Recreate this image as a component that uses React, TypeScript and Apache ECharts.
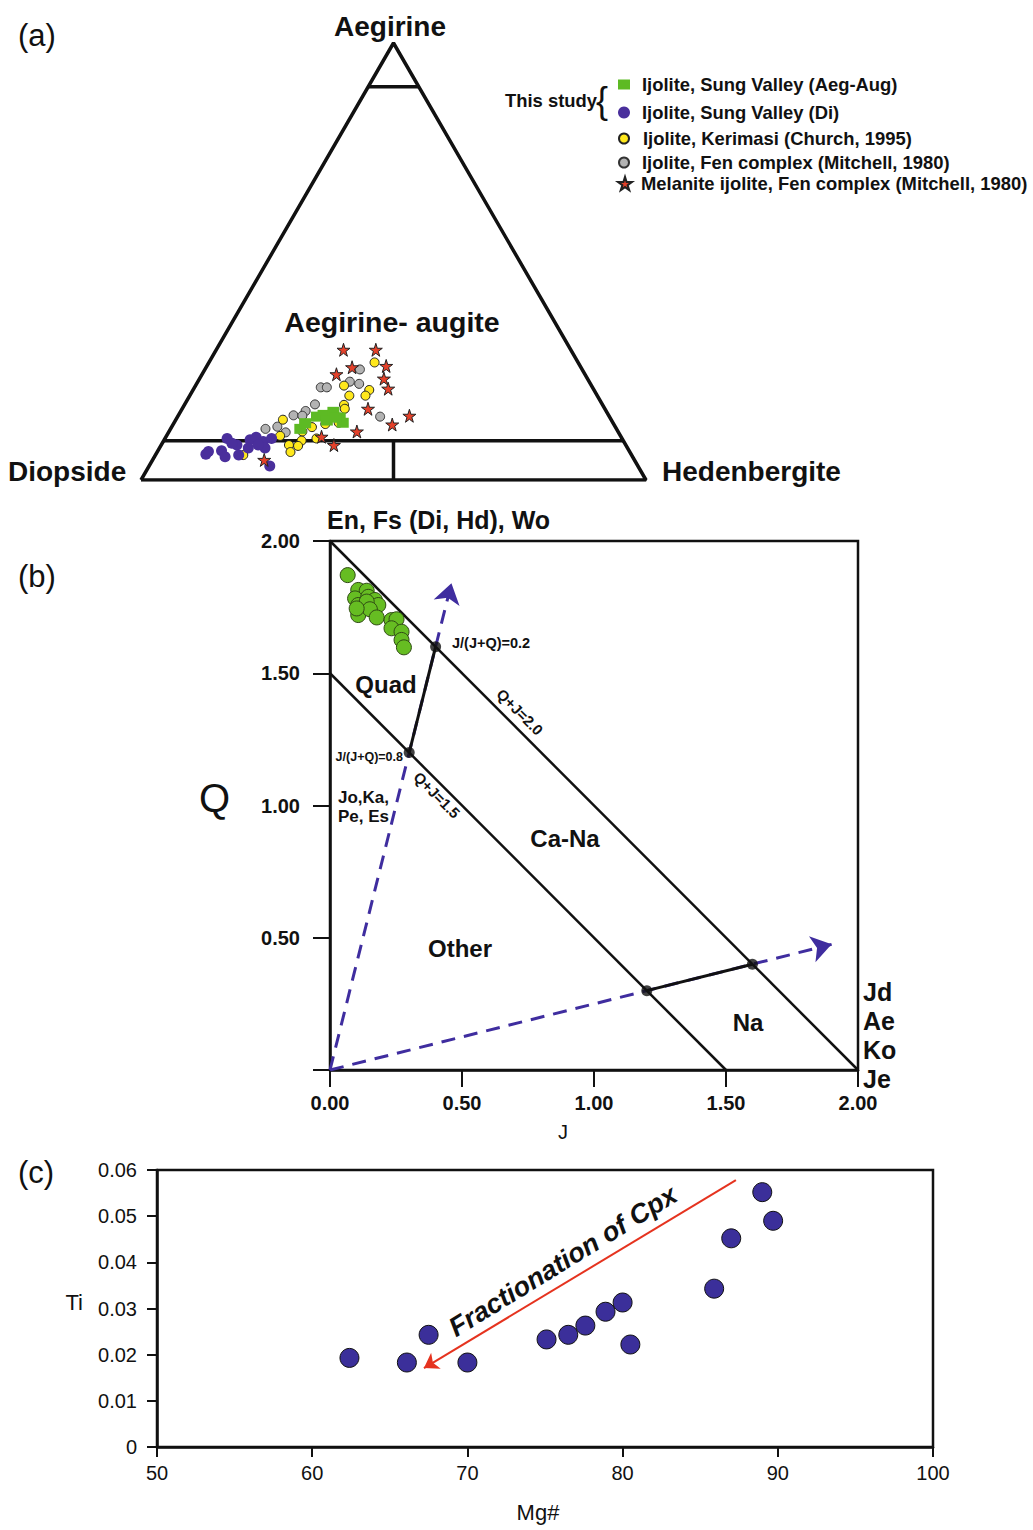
import React, { useEffect, useRef } from "react";
import * as echarts from "echarts";

const FONT = "'Liberation Sans', Arial, Helvetica, sans-serif";
const INK = "#111111";
const SQ = Math.sqrt(3) / 2;

// ---------- Panel (a): ternary Ae–Di–Hd, points as [Aegirine %, Hedenbergite %] (Di = rest) ----------
const aegAugSungValley = [
  [11.7, 25.7], [13.0, 26.0], [14.5, 27.6], [14.9, 28.7], [15.6, 30.3],
  [14.3, 32.2], [13.1, 33.4], [13.6, 30.0], [14.3, 31.3],
];
const diSungValley = [
  [5.9, 9.9], [6.5, 10.1], [6.7, 12.6], [5.3, 14.0], [9.5, 12.3], [8.0, 15.0],
  [5.7, 16.5], [9.2, 17.0], [9.8, 17.9], [7.3, 17.6], [8.8, 19.8], [9.5, 21.1],
  [7.3, 20.9], [3.2, 23.9], [8.4, 13.8], [8.0, 19.2],
];
const kerimasi = [
  [26.9, 32.8], [21.6, 29.4], [20.6, 34.9], [19.3, 31.6], [19.3, 34.8], [17.2, 31.6],
  [16.3, 32.2], [13.8, 21.2], [12.1, 27.8], [11.1, 26.4], [10.1, 22.5], [12.8, 30.1],
  [9.0, 27.3], [9.5, 30.0], [8.0, 25.3], [7.8, 27.2], [6.4, 26.4], [5.7, 17.4], [13.1, 32.6],
];
const fenIjolite = [
  [25.3, 30.7], [22.5, 30.1], [22.0, 32.2], [21.2, 25.0], [21.2, 26.2], [17.3, 25.8],
  [15.8, 24.7], [14.8, 22.8], [14.7, 24.6], [14.5, 40.1], [12.2, 20.9], [11.7, 18.8], [10.9, 23.2],
];
const fenMelanite = [
  [29.8, 25.2], [29.8, 31.6], [25.8, 28.9], [24.2, 26.6], [26.1, 35.5], [23.2, 36.5],
  [20.9, 38.5], [16.3, 36.8], [14.7, 45.8], [12.7, 43.4], [11.1, 37.2], [9.9, 30.8],
  [8.0, 34.2], [4.6, 22.1],
];
const ternaryOutline = [[0, 0], [0, 100], [100, 0], [0, 0]];
const aegirineLimit = [[90, 0], [90, 10]];
const augiteLimit = [[9, 0], [9, 91]];
const diHdDivide = [[9, 45.5], [0, 50]];

// ---------- Panel (b): Q–J diagram ----------
const quadPoints = [
  [0.067, 1.871], [0.107, 1.815], [0.139, 1.812], [0.095, 1.783], [0.145, 1.789],
  [0.170, 1.777], [0.183, 1.758], [0.107, 1.758], [0.139, 1.771], [0.107, 1.720],
  [0.151, 1.742], [0.177, 1.711], [0.233, 1.701], [0.252, 1.704], [0.233, 1.670],
  [0.271, 1.657], [0.271, 1.626], [0.280, 1.598], [0.101, 1.745],
];
const lineQJ20 = [[0, 2], [2, 0]];
const lineQJ15 = [[0, 1.5], [1.5, 0]];
const tieQuad = [[0.3, 1.2], [0.4, 1.6]];
const tieNa = [[1.2, 0.3], [1.6, 0.4]];
const nodes = [[0.4, 1.6], [0.3, 1.2], [1.2, 0.3], [1.6, 0.4]];
const ratioArrows = [
  [[0, 0], [0.46, 1.84]],
  [[0, 0], [1.9, 0.475]],
];
const qTicks = [0, 0.5, 1, 1.5, 2];

// ---------- Panel (c): Ti vs Mg# ----------
const mgNumber = [62.4, 66.1, 67.5, 70.0, 75.1, 76.5, 77.6, 78.9, 80.0, 80.5, 85.9, 87.0, 89.0, 89.7];
const tiValues = [0.0193, 0.0183, 0.0243, 0.0183, 0.0233, 0.0243, 0.0263, 0.0293, 0.0313, 0.0222, 0.0343, 0.0452, 0.0552, 0.049];
const fractionationArrow = [[87.3, 0.0578], [67.2, 0.0171]];

const STAR = "path://M50,0 L61,35 L98,35 L68,57 L79,91 L50,70 L21,91 L32,57 L2,35 L39,35 Z";

const tern = (p: number[]) => [(p[1] + p[0] / 2) / 100, (p[0] / 100) * SQ];

function txt(
  text: string,
  x: number,
  y: number,
  size: number,
  opts: { weight?: string; align?: string; rot?: number; italic?: boolean; color?: string } = {}
) {
  const align = opts.align || "left";
  return {
    type: "text",
    x,
    y,
    rotation: opts.rot || 0,
    z: 100,
    style: {
      text,
      fontSize: size,
      fontWeight: opts.weight || "normal",
      fontStyle: opts.italic ? "italic" : "normal",
      fontFamily: FONT,
      fill: opts.color || INK,
      align,
      textAlign: align,
      verticalAlign: "middle",
      textVerticalAlign: "middle",
    },
  };
}

function legendFor(name: string, left: number, centerY: number, size: number, h: number, textStart: number) {
  return {
    data: [name],
    left,
    top: centerY - 8.5,
    itemWidth: size,
    itemHeight: h,
    padding: 0,
    selectedMode: false,
    textStyle: {
      fontSize: 18.4,
      fontWeight: "bold",
      fontFamily: FONT,
      color: INK,
      padding: [0, 0, 0, textStart - (left + size + 5)],
    },
  };
}

export default function App() {
  const ref = useRef<HTMLDivElement>(null);

  useEffect(() => {
    if (!ref.current) return;
    const chart = echarts.init(ref.current, undefined, { renderer: "svg" });

    const lineSeries = (data: number[][], gi: number, width: number, conv = false) => ({
      type: "line",
      xAxisIndex: gi,
      yAxisIndex: gi,
      data: conv ? data.map(tern) : data,
      symbol: "none",
      silent: true,
      lineStyle: { color: INK, width },
      z: 3,
    });

    const ternScatter = (name: string, data: number[][], symbol: string, size: number | number[], color: string, border: string, bw: number, z: number) => ({
      type: "scatter",
      name,
      xAxisIndex: 0,
      yAxisIndex: 0,
      data: data.map(tern),
      symbol,
      symbolSize: size,
      itemStyle: { color, borderColor: border, borderWidth: bw, opacity: 1 },
      z,
    });

    const option: any = {
      animation: false,
      backgroundColor: "#ffffff",
      textStyle: { fontFamily: FONT },
      grid: [
        { left: 141, top: 43, width: 505, height: 437 },
        { left: 330, top: 541, width: 528, height: 529, show: true, borderColor: INK, borderWidth: 2.5, backgroundColor: "transparent" },
        { left: 157, top: 1170, width: 776, height: 277, show: true, borderColor: INK, borderWidth: 2.5, backgroundColor: "transparent" },
      ],
      xAxis: [
        { gridIndex: 0, type: "value", min: 0, max: 1, show: false },
        {
          gridIndex: 1, type: "value", min: 0, max: 2, interval: 0.5,
          name: "J", nameLocation: "middle", nameGap: 52,
          nameTextStyle: { fontSize: 20, fontFamily: FONT, color: INK, padding: [0, 62, 0, 0] },
          axisLine: { show: true, onZero: false, lineStyle: { color: INK, width: 2.5 } },
          axisTick: { show: true, length: 17, lineStyle: { color: INK, width: 2 } },
          axisLabel: { formatter: (v: number) => v.toFixed(2), fontSize: 20, fontWeight: "bold", fontFamily: FONT, color: INK, margin: 23 },
          splitLine: { show: false },
        },
        {
          gridIndex: 2, type: "value", min: 50, max: 100, interval: 10,
          name: "Mg#", nameLocation: "middle", nameGap: 54,
          nameTextStyle: { fontSize: 22, fontFamily: FONT, color: INK, padding: [0, 14, 0, 0] },
          axisLine: { show: true, onZero: false, lineStyle: { color: INK, width: 2.5 } },
          axisTick: { show: true, length: 10, lineStyle: { color: INK, width: 2 } },
          axisLabel: { fontSize: 20, fontFamily: FONT, color: INK, margin: 16 },
          splitLine: { show: false },
        },
      ],
      yAxis: [
        { gridIndex: 0, type: "value", min: 0, max: SQ, show: false },
        {
          gridIndex: 1, type: "value", min: 0, max: 2, interval: 0.5,
          name: "Q", nameLocation: "middle", nameGap: 100, nameRotate: 0,
          nameTextStyle: { fontSize: 40, fontFamily: FONT, color: INK, verticalAlign: "bottom", lineHeight: 15 },
          axisLine: { show: true, onZero: false, lineStyle: { color: INK, width: 2.5 } },
          axisTick: { show: true, length: 17, lineStyle: { color: INK, width: 2 } },
          axisLabel: {
            formatter: (v: number) => (v === qTicks[0] ? "" : v.toFixed(2)),
            fontSize: 20, fontWeight: "bold", fontFamily: FONT, color: INK, margin: 30,
          },
          splitLine: { show: false },
        },
        {
          gridIndex: 2, type: "value", min: 0, max: 0.06, interval: 0.01,
          name: "Ti", nameLocation: "middle", nameGap: 74, nameRotate: 0,
          nameTextStyle: { fontSize: 22, fontFamily: FONT, color: INK, verticalAlign: "bottom", lineHeight: 13 },
          axisLine: { show: true, onZero: false, lineStyle: { color: INK, width: 2.5 } },
          axisTick: { show: true, length: 10, lineStyle: { color: INK, width: 2 } },
          axisLabel: {
            formatter: (v: number) => (v === 0 ? "0" : v.toFixed(2)),
            fontSize: 20, fontFamily: FONT, color: INK, margin: 20,
          },
          splitLine: { show: false },
        },
      ],
      legend: [
        legendFor("Ijolite, Sung Valley (Aeg-Aug)", 618, 84, 12, 10, 642),
        legendFor("Ijolite, Sung Valley (Di)", 618, 112, 12, 12, 642),
        legendFor("Ijolite, Kerimasi (Church, 1995)", 618, 138, 10, 10, 642),
        legendFor("Ijolite, Fen complex (Mitchell, 1980)", 618, 162, 10, 10, 641),
        legendFor("Melanite ijolite, Fen complex (Mitchell, 1980)", 617, 183, 14, 14, 640),
      ],
      series: [
        // panel (a)
        { ...lineSeries(ternaryOutline, 0, 3.5, true) },
        { ...lineSeries(aegirineLimit, 0, 3.5, true) },
        { ...lineSeries(augiteLimit, 0, 3.5, true) },
        { ...lineSeries(diHdDivide, 0, 3.5, true) },
        ternScatter("Ijolite, Fen complex (Mitchell, 1980)", fenIjolite, "circle", 9, "#b3b3b3", "#333333", 1, 5),
        ternScatter("Ijolite, Kerimasi (Church, 1995)", kerimasi, "circle", 9, "#ffe81c", "#222222", 1, 6),
        ternScatter("Ijolite, Sung Valley (Aeg-Aug)", aegAugSungValley, "rect", [12, 10], "#5dba24", "#5dba24", 0, 7),
        ternScatter("Ijolite, Sung Valley (Di)", diSungValley, "circle", 11, "#4a2f9c", "#4a2f9c", 0, 8),
        ternScatter("Melanite ijolite, Fen complex (Mitchell, 1980)", fenMelanite, STAR, 13, "#e4412a", "#222222", 1, 9),
        // panel (b)
        { ...lineSeries(lineQJ20, 1, 2.5) },
        { ...lineSeries(lineQJ15, 1, 2.5) },
        { ...lineSeries(tieQuad, 1, 3) },
        { ...lineSeries(tieNa, 1, 3) },
        {
          type: "lines",
          coordinateSystem: "cartesian2d",
          xAxisIndex: 1,
          yAxisIndex: 1,
          silent: true,
          symbol: ["none", "arrow"],
          symbolSize: 20,
          lineStyle: { color: "#3f2d9f", width: 3, type: [14, 9], opacity: 1 },
          data: ratioArrows.map((c) => ({ coords: c })),
          z: 2,
        },
        {
          type: "scatter",
          xAxisIndex: 1,
          yAxisIndex: 1,
          data: nodes,
          symbol: "circle",
          symbolSize: 11,
          itemStyle: { color: INK },
          z: 6,
        },
        {
          type: "scatter",
          name: "Quad pyroxene",
          xAxisIndex: 1,
          yAxisIndex: 1,
          data: quadPoints,
          symbol: "circle",
          symbolSize: 15,
          itemStyle: { color: "#66bd22", borderColor: "#2f4a14", borderWidth: 1, opacity: 1 },
          z: 7,
        },
        // panel (c)
        {
          type: "scatter",
          name: "Ti vs Mg#",
          xAxisIndex: 2,
          yAxisIndex: 2,
          data: mgNumber.map((m, i) => [m, tiValues[i]]),
          symbol: "circle",
          symbolSize: 19,
          itemStyle: { color: "#3b2f9a", borderColor: "#111111", borderWidth: 1, opacity: 1 },
          z: 5,
        },
        {
          type: "lines",
          coordinateSystem: "cartesian2d",
          xAxisIndex: 2,
          yAxisIndex: 2,
          silent: true,
          symbol: ["none", "arrow"],
          symbolSize: 14,
          lineStyle: { color: "#e5331f", width: 2, opacity: 1 },
          data: [{ coords: fractionationArrow }],
          z: 4,
        },
      ],
      graphic: [
        txt("(a)", 18, 35, 31),
        txt("(b)", 18, 576, 31),
        txt("(c)", 18, 1172, 31),
        txt("Aegirine", 390, 26, 28, { weight: "bold", align: "center" }),
        txt("Aegirine- augite", 392, 322, 28.5, { weight: "bold", align: "center" }),
        txt("Diopside", 8, 471, 28, { weight: "bold" }),
        txt("Hedenbergite", 662, 471, 28, { weight: "bold" }),
        txt("This study", 505, 100, 18.4, { weight: "bold" }),
        txt("{", 596, 100, 36),
        txt("En, Fs (Di, Hd), Wo", 327, 520, 25, { weight: "bold" }),
        txt("J/(J+Q)=0.2", 452, 643, 14.5, { weight: "bold" }),
        txt("Q+J=2.0", 520, 712, 15, { weight: "bold", align: "center", rot: -Math.PI / 4 }),
        txt("Quad", 386, 684, 24, { weight: "bold", align: "center" }),
        txt("J/(J+Q)=0.8", 403, 757, 12.5, { weight: "bold", align: "right" }),
        txt("Q+J=1.5", 437, 795, 15, { weight: "bold", align: "center", rot: -Math.PI / 4 }),
        txt("Jo,Ka,", 338, 797, 17, { weight: "bold" }),
        txt("Pe, Es", 338, 816, 17, { weight: "bold" }),
        txt("Ca-Na", 565, 838, 24, { weight: "bold", align: "center" }),
        txt("Other", 460, 948, 24, { weight: "bold", align: "center" }),
        txt("Na", 748, 1022, 24, { weight: "bold", align: "center" }),
        txt("Jd", 863, 992, 25, { weight: "bold" }),
        txt("Ae", 863, 1021, 25, { weight: "bold" }),
        txt("Ko", 863, 1050, 25, { weight: "bold" }),
        txt("Je", 863, 1079, 25, { weight: "bold" }),
        txt("Fractionation of Cpx", 563, 1261, 27, { weight: "bold", italic: true, align: "center", rot: 0.553 }),
      ],
    };

    chart.setOption(option);
    return () => chart.dispose();
  }, []);

  return (
    <div
      ref={ref}
      style={{ position: "absolute", left: 0, top: 0, width: 1033, height: 1530, background: "#fff" }}
    />
  );
}
